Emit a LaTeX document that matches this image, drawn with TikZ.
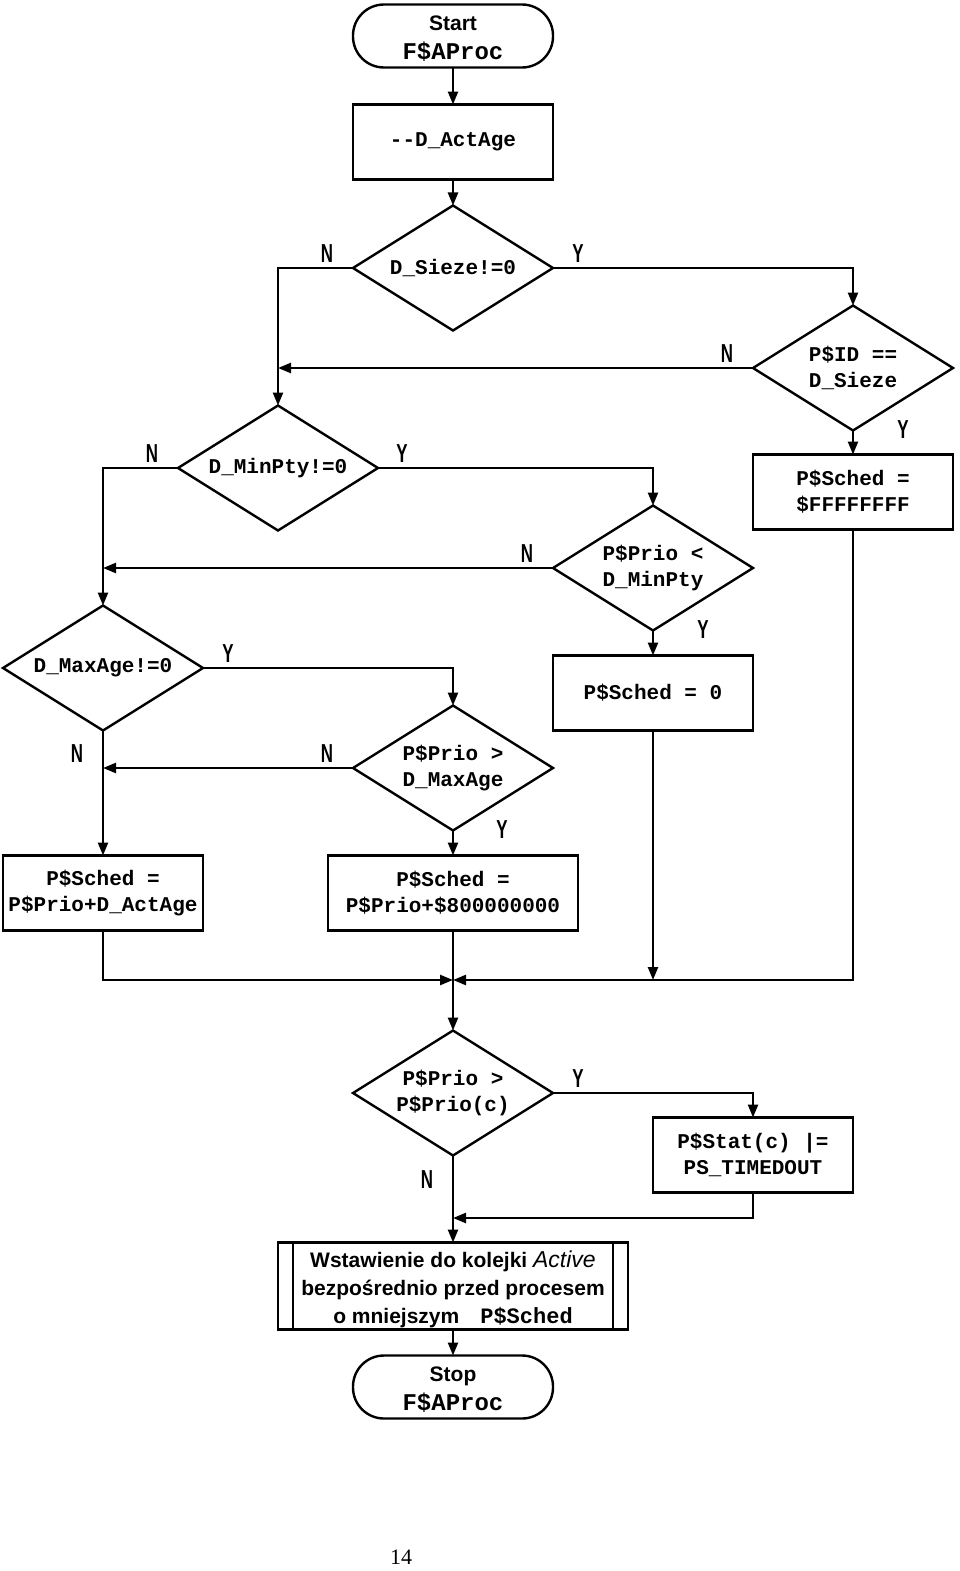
\documentclass[tikz,border=0pt]{standalone}
\usepackage{fontspec}
\setmainfont{Liberation Serif}
\setsansfont{Liberation Sans}
\setmonofont{Liberation Mono}
\usetikzlibrary{shapes.geometric,arrows.meta}
\begin{document}
\begin{tikzpicture}[x=1pt,y=-1pt,
 line width=2.4pt,
 every node/.style={inner sep=0pt,outer sep=0pt},
 base/.style={draw,line width=2.4pt,align=center,font=\ttfamily\bfseries\fontsize{21}{26}\selectfont},
 term/.style={base,rectangle,rounded corners=31pt,minimum width=200pt,minimum height=63pt,font=\ttfamily\bfseries\fontsize{24}{29}\selectfont},
 procbox/.style={base,rectangle,minimum width=200pt,minimum height=75pt},
 decision/.style={base,diamond,aspect=1.6,minimum width=200pt,minimum height=125pt},
 arr/.style={-{Triangle[length=13pt,width=10pt]}},
 lbl/.style={font=\sffamily\bfseries\fontsize{26}{26}\selectfont},
]
\fill[white] (0,0) rectangle (960,1571);
\useasboundingbox (0,0) rectangle (960,1571);

\node[term] (start) at (453,36) {};
\node[align=center,font=\ttfamily\bfseries\fontsize{24}{29}\selectfont] (starttext) at (453,39) {{\sffamily\fontsize{21}{29}\selectfont Start}\\F\$AProc};
\node[procbox] (act) at (453,142) {-{}-D\_ActAge};
\node[decision] (sieze) at (453,268) {D\_Sieze!=0};
\node[decision] (pid) at (853,368) {P\$ID ==\\D\_Sieze};
\node[procbox] (ff) at (853,492) {P\$Sched =\\\$FFFFFFFF};
\node[decision] (minpty) at (278,468) {D\_MinPty!=0};
\node[decision] (pmin) at (653,568) {P\$Prio <\\D\_MinPty};
\node[procbox] (zero) at (653,693) {P\$Sched = 0};
\node[decision] (maxage) at (103,668) {D\_MaxAge!=0};
\node[decision] (pmax) at (453,768) {P\$Prio >\\D\_MaxAge};
\node[procbox] (actbox) at (103,893) {P\$Sched =\\P\$Prio+D\_ActAge};
\node[procbox,minimum width=250pt] (big) at (453,893) {P\$Sched =\\P\$Prio+\$800000000};
\coordinate (j1) at (453,980);
\node[decision] (pc) at (453,1093) {P\$Prio >\\P\$Prio(c)};
\node[procbox] (stat) at (753,1155) {P\$Stat(c) |=\\PS\_TIMEDOUT};
\coordinate (j2) at (453,1218);
\node[procbox, minimum width=350pt, minimum height=87pt] (ins) at (453,1286) {};
\node[align=center, font=\sffamily\bfseries\fontsize{21}{28}\selectfont] (instext) at (453,1289) {Wstawienie do kolejki {\mdseries\itshape\fontsize{23}{28}\selectfont Active}\\bezpośrednio przed procesem\\o mniejszym\quad{\ttfamily\fontsize{22}{28}\selectfont P\$Sched}};
\draw ([xshift=15pt]ins.north west) -- ([xshift=15pt]ins.south west);
\draw ([xshift=-15pt]ins.north east) -- ([xshift=-15pt]ins.south east);
\node[term] (stop) at (453,1387) {};
\node[align=center,font=\ttfamily\bfseries\fontsize{24}{29}\selectfont] (stoptext) at (453,1390) {{\sffamily\fontsize{21}{29}\selectfont Stop}\\F\$AProc};
\node[font=\rmfamily\fontsize{22}{22}\selectfont] (pg) at (401,1557) {14};

\node[lbl] (l1) at (327,254) {\scalebox{0.65}[1]{N}};
\node[lbl] (l2) at (578,254) {\scalebox{0.65}[1]{Y}};
\node[lbl] (l3) at (727,354) {\scalebox{0.65}[1]{N}};
\node[lbl] (l4) at (903,430) {\scalebox{0.65}[1]{Y}};
\node[lbl] (l5) at (152,454) {\scalebox{0.65}[1]{N}};
\node[lbl] (l6) at (402,454) {\scalebox{0.65}[1]{Y}};
\node[lbl] (l7) at (527,554) {\scalebox{0.65}[1]{N}};
\node[lbl] (l8) at (703,630) {\scalebox{0.65}[1]{Y}};
\node[lbl] (l9) at (228,654) {\scalebox{0.65}[1]{Y}};
\node[lbl] (l10) at (77,754) {\scalebox{0.65}[1]{N}};
\node[lbl] (l11) at (327,754) {\scalebox{0.65}[1]{N}};
\node[lbl] (l12) at (502,830) {\scalebox{0.65}[1]{Y}};
\node[lbl] (l13) at (578,1079) {\scalebox{0.65}[1]{Y}};
\node[lbl] (l14) at (427,1180) {\scalebox{0.65}[1]{N}};

\draw[arr] (start) -- (act);
\draw[arr] (act) -- (sieze);
\draw[arr] (sieze.east) -| (pid.north);
\draw[arr] (sieze.west) -| (minpty.north);
\draw[arr] (pid.west) -- (pid.west -| minpty.north);
\draw[arr] (pid.south) -- (ff.north);
\draw[arr] (ff.south) |- (j1);
\draw[arr] (minpty.west) -| (maxage.north);
\draw[arr] (minpty.east) -| (pmin.north);
\draw[arr] (pmin.west) -- (pmin.west -| maxage.north);
\draw[arr] (pmin.south) -- (zero.north);
\draw[arr] (zero.south) -- (zero.south |- j1);
\draw[arr] (maxage.east) -| (pmax.north);
\draw[arr] (maxage.south) -- (actbox.north);
\draw[arr] (pmax.west) -- (pmax.west -| maxage.south);
\draw[arr] (pmax.south) -- (big.north);
\draw[arr] (actbox.south) |- (j1);
\draw[arr] (big.south) -- (pc.north);
\draw[arr] (pc.east) -| (stat.north);
\draw[arr] (stat.south) |- (j2);
\draw[arr] (pc.south) -- (ins.north);
\draw[arr] (ins.south) -- (stop.north);
\end{tikzpicture}
\end{document}
